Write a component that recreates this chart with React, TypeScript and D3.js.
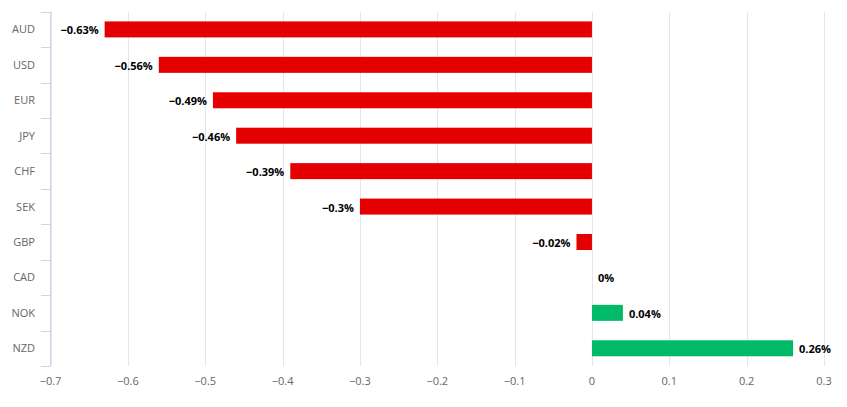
import React from "react";
import * as d3 from "d3";

const categories = ["AUD", "USD", "EUR", "JPY", "CHF", "SEK", "GBP", "CAD", "NOK", "NZD"];
const values = [-0.63, -0.56, -0.49, -0.46, -0.39, -0.3, -0.02, 0, 0.04, 0.26];
const xTicks = [-0.7, -0.6, -0.5, -0.4, -0.3, -0.2, -0.1, 0, 0.1, 0.2, 0.3];

const W = 847;
const H = 407;
const FONT = "'Open Sans', 'DejaVu Sans', sans-serif";

const fmtTick = (v: number) => {
  const s = d3.format("")(+v.toFixed(2));
  return s.replace("-", "\u2212");
};
const fmtLabel = (v: number) => {
  const s = String(+v.toFixed(2)) + "%";
  return s.replace("-", "\u2212");
};

export default function App() {
  const x = d3.scaleLinear().domain([-0.7, 0.3]).range([50.5, 824]);
  const y = d3.scaleBand<string>().domain(categories).range([11.7, 366]).paddingInner(0).paddingOuter(0);
  const barH = 16;
  const bw = y.bandwidth();
  const boundaries = d3.range(categories.length + 1).map((i) => 11.7 + i * bw);

  return (
    <svg width={W} height={H} style={{ position: "absolute", left: 0, top: 0, background: "#fff" }} fontFamily={FONT}>
      {/* gridlines */}
      {xTicks.map((t) => (
        <line
          key={"g" + t}
          x1={Math.round(x(t)) + 0.5}
          x2={Math.round(x(t)) + 0.5}
          y1={11.7}
          y2={366}
          stroke="#e6e6e6"
          strokeWidth={1}
        />
      ))}
      {/* category axis line */}
      <line x1={50.5} x2={50.5} y1={11.7} y2={366} stroke="#ccd6eb" strokeWidth={1} />
      {boundaries.map((b, i) => (
        <line key={"t" + i} x1={41} x2={50.5} y1={Math.round(b) + 0.5} y2={Math.round(b) + 0.5} stroke="#ccd6eb" strokeWidth={1} />
      ))}
      {/* category labels */}
      {categories.map((c) => (
        <text
          key={"c" + c}
          x={35}
          y={(y(c) as number) + bw / 2 + 4}
          textAnchor="end"
          fontSize={11}
          fill="#666666"
        >
          {c}
        </text>
      ))}
      {/* bars */}
      {categories.map((c, i) => {
        const v = values[i];
        const x0 = x(Math.min(0, v));
        const x1 = x(Math.max(0, v));
        const cy = (y(c) as number) + bw / 2;
        return (
          <rect
            key={"b" + c}
            x={x0}
            y={cy - barH / 2}
            width={Math.max(0, x1 - x0)}
            height={barH}
            fill={v < 0 ? "#e40000" : "#00ba69"}
          />
        );
      })}
      {/* data labels */}
      {categories.map((c, i) => {
        const v = values[i];
        const cy = (y(c) as number) + bw / 2;
        const neg = v < 0;
        return (
          <text
            key={"l" + c}
            x={neg ? x(v) - 6 : x(v) + 6}
            y={cy + 5}
            textAnchor={neg ? "end" : "start"}
            fontSize={11}
            fontWeight="bold"
            fill="#000000"
          >
            {fmtLabel(v)}
          </text>
        );
      })}
      {/* x tick labels */}
      {xTicks.map((t) => (
        <text key={"xl" + t} x={x(t)} y={385} textAnchor="middle" fontSize={11} fill="#666666">
          {fmtTick(t)}
        </text>
      ))}
    </svg>
  );
}
